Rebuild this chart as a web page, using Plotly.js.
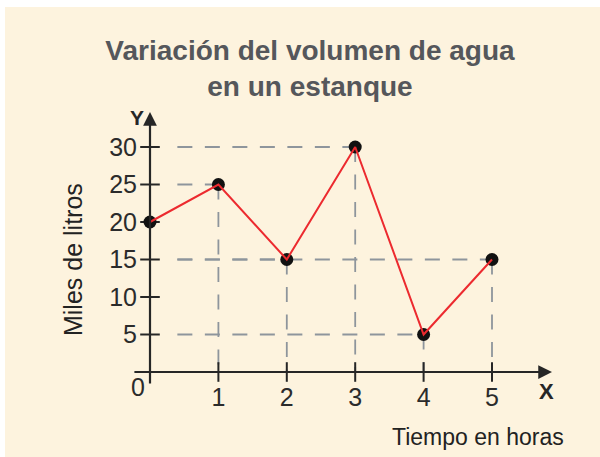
<!DOCTYPE html>
<html>
<head>
<meta charset="utf-8">
<script src="https://cdn.plot.ly/plotly-3.0.1.min.js"></script>
<style>
  body { margin: 0; background: #ffffff; }
  #plot { margin-left: 5px; margin-top: 7px; width: 595px; height: 450px; }
</style>
</head>
<body>
<div id="plot"></div>
<script>
// data: hours vs thousands of litres
let hours = [0, 1, 2, 3, 4, 5];
let litres = [20, 25, 15, 30, 5, 15];

// tick values on each axis
let xTicks = [1, 2, 3, 4, 5];
let yTicks = [5, 10, 15, 20, 25, 30];

let font = "'Liberation Sans', Arial, sans-serif";
let ink = "#262626";

// dashed guide lines from every point back to both axes (skip the one sitting on the y axis)
let guideX = [];
let guideY = [];
for (let i = 0; i < hours.length; i++) {
    if (hours[i] === 0) continue;
    guideX.push(0.4, hours[i], null, hours[i], hours[i], null);
    guideY.push(litres[i], litres[i], null, litres[i], 0, null);
}

let guideTrace = {
    x: guideX,
    y: guideY,
    mode: "lines",
    line: {color: "#8e959c", width: 1.8, dash: "15px,12.5px"},
    hoverinfo: "skip",
    connectgaps: false
}

// little crossing tick marks on both axes
let xTickTrace = {
    x: xTicks,
    y: xTicks.map(() => 0),
    mode: "markers",
    marker: {symbol: "line-ns-open", size: 14, color: ink, line: {color: ink, width: 2}},
    hoverinfo: "skip"
}

let yTickTrace = {
    x: yTicks.map(() => 0),
    y: yTicks,
    mode: "markers",
    marker: {symbol: "line-ew-open", size: 14, color: ink, line: {color: ink, width: 2}},
    hoverinfo: "skip"
}

let dotTrace = {
    x: hours,
    y: litres,
    mode: "markers",
    marker: {color: "#111111", size: 13},
    cliponaxis: false
}

let lineTrace = {
    x: hours,
    y: litres,
    mode: "lines",
    line: {color: "#ec2a2f", width: 2},
    cliponaxis: false
}

let data = [guideTrace, xTickTrace, yTickTrace, dotTrace, lineTrace];

let layout = {
    width: 595,
    height: 450,
    paper_bgcolor: "#fdf3de",
    plot_bgcolor: "rgba(0,0,0,0)",
    showlegend: false,
    margin: {l: 123, r: 45, t: 99, b: 67},
    font: {family: font, color: ink},
    title: {
        text: "Variación del volumen de agua<br>en un estanque",
        font: {family: font, size: 28, color: "#55575b", weight: "bold"},
        xref: "container",
        x: 0.5126,
        yref: "container",
        y: 0.8833,
        yanchor: "middle"
    },
    xaxis: {
        range: [-0.3216, 5.921],
        anchor: "free",
        position: 0.06338,
        showgrid: false,
        zeroline: false,
        showline: false,
        ticks: "",
        tickvals: xTicks,
        ticklabelstandoff: 8,
        tickfont: {size: 25, color: "#2b2b2b"}
    },
    yaxis: {
        range: [-2.4, 35.467],
        anchor: "free",
        position: 0.05152,
        showgrid: false,
        zeroline: false,
        showline: false,
        ticks: "",
        tickvals: yTicks,
        ticklabelstandoff: 13,
        tickfont: {size: 25, color: "#2b2b2b"}
    },
    annotations: [
        // x axis with arrow
        {x: 5.877, y: 0, ax: -0.25, ay: 0, xref: "x", yref: "y", axref: "x", ayref: "y",
         text: "", showarrow: true, arrowhead: 2, arrowsize: 1.25, arrowwidth: 2.2, arrowcolor: ink, standoff: 0},
        // y axis with arrow
        {x: 0, y: 34.67, ax: 0, ay: -1.73, xref: "x", yref: "y", axref: "x", ayref: "y",
         text: "", showarrow: true, arrowhead: 2, arrowsize: 1.25, arrowwidth: 2.2, arrowcolor: ink, standoff: 0},
        {x: 0, y: 0, xref: "x", yref: "y", text: "0", showarrow: false, xshift: -12, yshift: -15,
         font: {size: 25, color: "#2b2b2b"}},
        {x: 0, y: 34.0, xref: "x", yref: "y", text: "<b>Y</b>", showarrow: false, xshift: -13,
         font: {size: 21, color: ink}},
        {x: 5.80, y: 0, xref: "x", yref: "y", text: "<b>X</b>", showarrow: false, yshift: -19,
         font: {size: 22, color: ink}},
        {x: 0.8197, y: -0.1655, xref: "paper", yref: "paper", xanchor: "center", yanchor: "middle",
         text: "Tiempo en horas", showarrow: false, font: {size: 23, color: "#222222"}},
        {x: -0.1288, y: 0.4577, xref: "paper", yref: "paper", xanchor: "center", yanchor: "middle",
         text: "Miles de litros", showarrow: false, textangle: -90, font: {size: 25, color: "#222222"}}
    ]
}

Plotly.newPlot("plot", data, layout, {staticPlot: true, displayModeBar: false});
</script>
</body>
</html>
